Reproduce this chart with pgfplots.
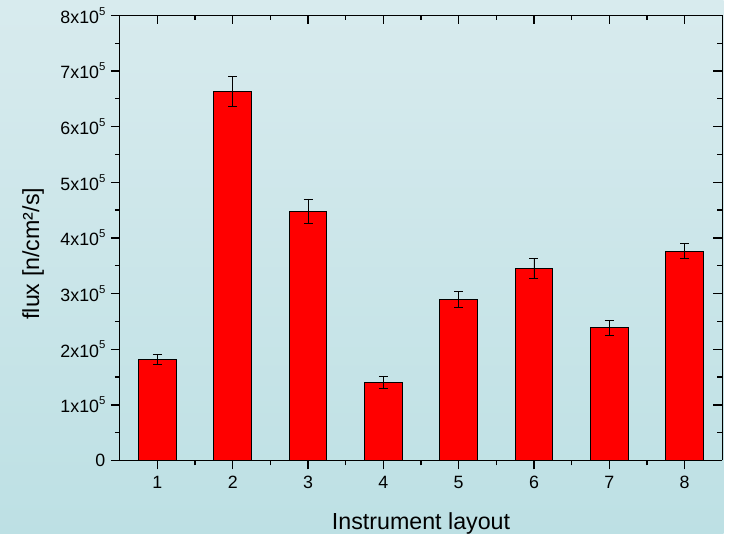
\documentclass[border=0pt]{standalone}
\usepackage{fontspec}
\setmainfont{Liberation Sans}
\usepackage{pgfplots}
\pgfplotsset{compat=1.18}
\definecolor{bgtop}{RGB}{216,235,238}
\definecolor{bgbot}{RGB}{189,224,228}
\newcommand\tf{\fontsize{18}{20}\selectfont}
\newcommand\yl[1]{\tf #1x10\raisebox{0.46em}{\fontsize{11.5}{11.5}\selectfont 5}}
\begin{document}
\begin{tikzpicture}[x=1bp,y=1bp]
\shade[top color=bgtop,bottom color=bgbot] (0,0) rectangle (729,538);
\pgfplotsset{
  common/.style={
    at={(120.7bp,74bp)}, anchor=south west, scale only axis,
    width=607bp, height=448.5bp,
    xmin=0.5, xmax=8.5, ymin=0, ymax=800000,
    xtick={1,2,3,4,5,6,7,8},
    ytick={0,100000,200000,300000,400000,500000,600000,700000,800000},
    minor x tick num=1, minor y tick num=1,
    major tick length=9bp, minor tick length=5bp,
    axis line style={line width=1.3bp, -},
    every tick/.style={black, line width=1.3bp},
    scaled y ticks=false,
    label style={font=\fontsize{23.5}{26}\selectfont},
  }
}
\begin{axis}[common,
  axis x line*=bottom, axis y line*=left, tick align=outside,
  xticklabels={{\tf 1},{\tf 2},{\tf 3},{\tf 4},{\tf 5},{\tf 6},{\tf 7},{\tf 8}},
  yticklabels={{\tf 0},{\yl{1}},{\yl{2}},{\yl{3}},{\yl{4}},{\yl{5}},{\yl{6}},{\yl{7}},{\yl{8}}},
  xticklabel style={anchor=north, yshift=-3bp},
  yticklabel style={anchor=east, xshift=-2bp},
  xlabel={Instrument layout},
  ylabel={flux [n/cm²/s]},
  xlabel style={at={(axis description cs:0.5,-0.1545)}, anchor=base},
  ylabel style={at={(axis description cs:-0.1338,0.4645)}, anchor=base, rotate=0},
]
\addplot[ybar, bar width=0.5, fill=red, draw=black, line width=1bp,
  error bars/.cd, y dir=both, y explicit,
  error bar style={black, line width=0.9bp},
  error mark options={rotate=90, mark size=4.5bp, line width=0.9bp, black}]
coordinates {
  (1,181000) +- (0,9000)
  (2,664000) +- (0,27000)
  (3,448000) +- (0,22000)
  (4,140000) +- (0,11000)
  (5,290000) +- (0,14500)
  (6,345500) +- (0,18000)
  (7,238500) +- (0,13000)
  (8,376500) +- (0,13500)
};
\end{axis}
\begin{axis}[common,
  axis x line*=top, axis y line*=right, tick align=inside,
  xticklabels={}, yticklabels={},
]
\end{axis}
\end{tikzpicture}
\end{document}
